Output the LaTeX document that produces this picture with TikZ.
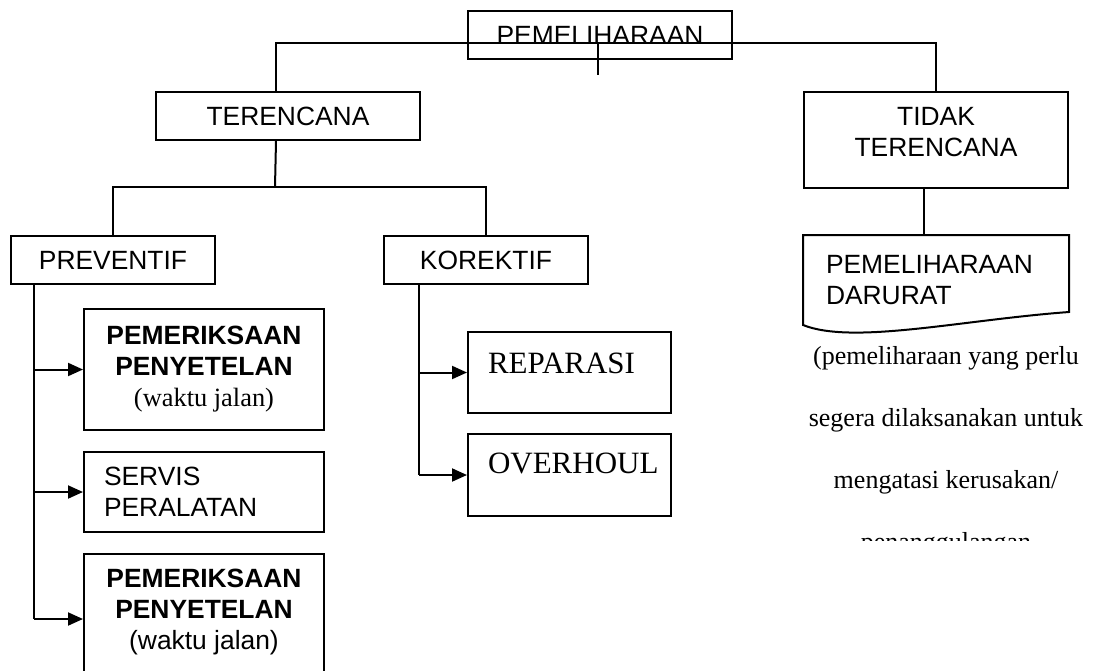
\documentclass[tikz,border=0pt]{standalone}
\usepackage{fontspec}
\setmainfont{Liberation Serif}
\setsansfont{Liberation Sans}
\usepackage{tikz}
\usetikzlibrary{arrows.meta,positioning,calc}

\newcommand{\hurufkotak}{\sffamily\fontsize{26.4}{31}\selectfont}
\newcommand{\hurufket}{\rmfamily\fontsize{26}{62}\selectfont}
\newcommand{\hurufbesar}{\rmfamily\fontsize{31}{36}\selectfont}

\begin{document}
\begin{tikzpicture}[
  x=1pt, y=-1pt,
  kotak/.style  = {rectangle, draw, line width=2pt, font=\hurufkotak,
                   align=center, inner sep=0pt, anchor=north west},
  kotakkiri/.style = {kotak, align=left},
  garis/.style  = {line width=2pt},
  panah/.style  = {garis, -{Triangle[length=15pt,width=13pt]}},
]
\clip (0,0) rectangle (1093,670);

%%═══════════════════════════════════════════════════════════
%% TINGKAT 1 — Pemeliharaan
%%═══════════════════════════════════════════════════════════

\node[kotak, minimum width=264pt, minimum height=48pt] (induk) at (467,10)
  {PEMELIHARAAN};

\node[kotak, minimum width=264pt, minimum height=48pt] (terencana) at (155,91)
  {TERENCANA};

\node[kotak, minimum width=264pt, minimum height=96pt, text depth=16pt]
  (tidak) at (803,91) {TIDAK\\TERENCANA};

\coordinate (bus) at (598,43);
\draw[garis] ([xshift=-12pt]terencana.north) |- (bus) -| (tidak.north);
\draw[garis] (bus) -- ++(0,32);

%%═══════════════════════════════════════════════════════════
%% TINGKAT 2 — Preventif / Korektif / Darurat
%%═══════════════════════════════════════════════════════════

\node[kotak, minimum width=204pt, minimum height=48pt] (preventif) at (10,235)
  {PREVENTIF};

\node[kotak, minimum width=204pt, minimum height=48pt] (korektif) at (383,235)
  {KOREKTIF};

\coordinate (cabang) at (275,187);
\draw[garis] ([xshift=-12pt]terencana.south) -- (cabang);
\draw[garis] (preventif.north) |- (cabang) -| (korektif.north);

\node[kotakkiri, draw=none, text width=220pt, inner xsep=22pt,
      minimum height=88pt] (darurat) at (803,235)
  {PEMELIHARAAN\\DARURAT};
\draw[garis] (darurat.south west) |- (darurat.north east)
  -- ([yshift=13pt]darurat.south east)
  .. controls ($(darurat.south)+(25,-5)$) and ($(darurat.south west)+(50,20)$)
  .. (darurat.south west) -- cycle;

\draw[garis] ([xshift=-12pt]tidak.south) -- ([xshift=-12pt]darurat.north);

\begin{scope}
  \clip (780,330) rectangle (1093,540);
  \node[font=\hurufket, align=center, inner sep=0pt, anchor=base] (ket)
    at (946,550)
    {(pemeliharaan yang perlu\\segera dilaksanakan untuk\\
     mengatasi kerusakan/\\penanggulangan};
\end{scope}

%%═══════════════════════════════════════════════════════════
%% TINGKAT 3 — Kegiatan
%%═══════════════════════════════════════════════════════════

\node[kotak, minimum width=240pt, minimum height=121pt] (periksaA) at (83,308)
  {\textbf{PEMERIKSAAN}\\\textbf{PENYETELAN}\\{\rmfamily (waktu jalan)}};

\node[kotakkiri, text width=200pt, inner xsep=20pt, minimum height=80pt]
  (servis) at (83,451) {SERVIS\\PERALATAN};

\node[kotak, minimum width=240pt, minimum height=130pt, text depth=20pt]
  (periksaB) at (83,553)
  {\textbf{PEMERIKSAAN}\\\textbf{PENYETELAN}\\(waktu jalan)};

\coordinate (batangA) at ([xshift=24pt]preventif.south west);
\draw[garis] (batangA) -- (batangA |- periksaB.west);
\draw[panah] (batangA |- periksaA.west) -- (periksaA.west);
\draw[panah] (batangA |- servis.west)   -- (servis.west);
\draw[panah] (batangA |- periksaB.west) -- (periksaB.west);

\node[kotakkiri, font=\hurufbesar, text width=163pt, inner xsep=20pt,
      minimum height=81pt, text depth=18pt] (reparasi) at (467,331)
  {REPARASI};

\node[kotakkiri, font=\hurufbesar, text width=163pt, inner xsep=20pt,
      minimum height=82pt, text depth=24pt] (overhoul) at (467,433)
  {OVERHOUL};

\coordinate (batangB) at ([xshift=36pt]korektif.south west);
\draw[garis] (batangB) -- (batangB |- overhoul.west);
\draw[panah] (batangB |- reparasi.west) -- (reparasi.west);
\draw[panah] (batangB |- overhoul.west) -- (overhoul.west);

\end{tikzpicture}
\end{document}
